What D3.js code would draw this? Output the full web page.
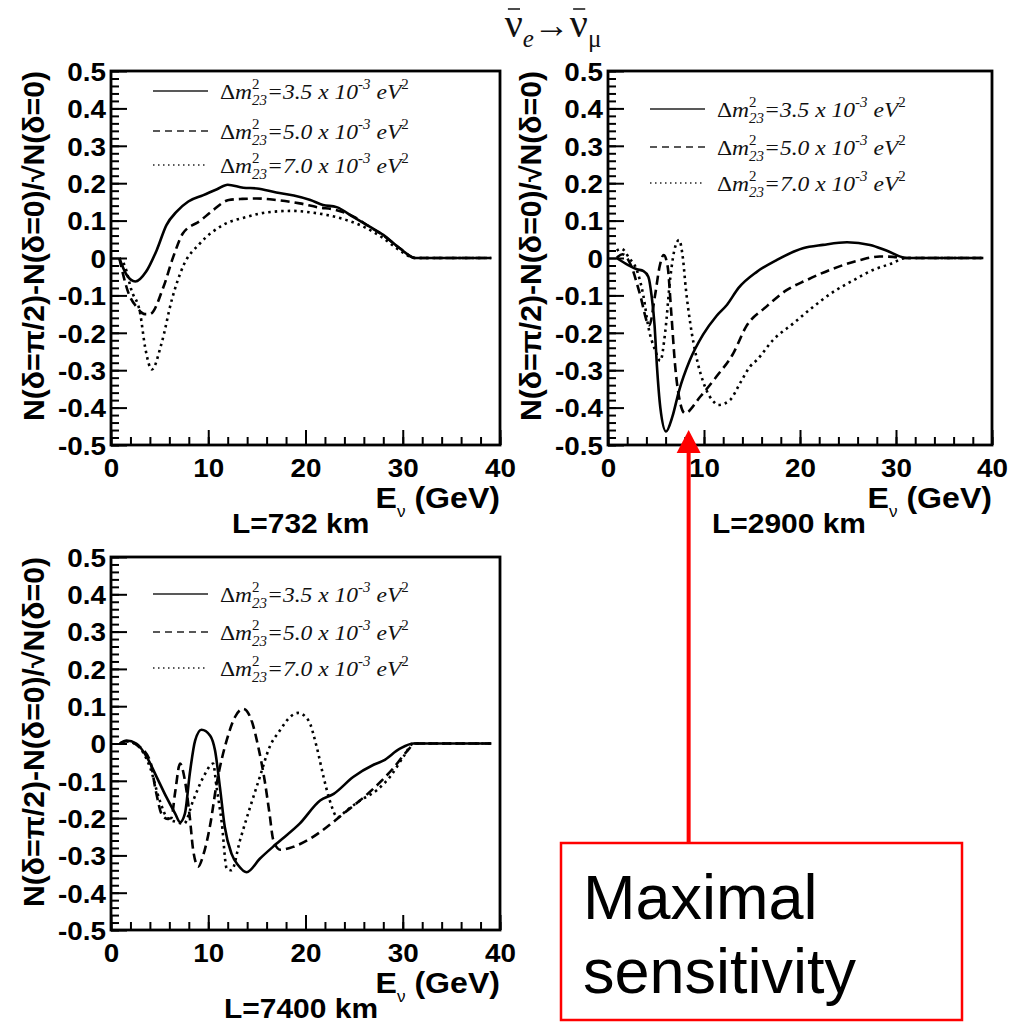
<!DOCTYPE html>
<html>
<head>
<meta charset="utf-8">
<script src="https://cdn.jsdelivr.net/npm/d3@7"></script>
<style>
  body { margin: 0; background: #fff; }
  svg text { font-family: "Liberation Sans", Arial, Helvetica, sans-serif; }
  .ws { transform-box: fill-box; transform-origin: left center; transform: scaleX(1.07); }
  .we { transform-box: fill-box; transform-origin: right center; transform: scaleX(1.07); }
  .wm { transform-box: fill-box; transform-origin: center; transform: scaleX(1.07); }
  .leg { font-family: "Liberation Serif", "Times New Roman", serif; }
</style>
</head>
<body>
<svg id="chart" width="1029" height="1023"></svg>
<script>

/****************************************************************************
 *  data: [E (GeV), (N(pi/2)-N(0))/sqrt(N(0))]
 ****************************************************************************/
var massLabels = ['3.5', '5.0', '7.0'];
var baselines = ['L=732 km', 'L=2900 km', 'L=7400 km'];
var xTicks = [0, 10, 20, 30, 40];
var yTicks = [-0.5, -0.4, -0.3, -0.2, -0.1, 0, 0.1, 0.2, 0.3, 0.4, 0.5];

// L = 732 km
var l732_m35 = [[0.85,0],[1.6,-0.045],[2.5,-0.063],[3.6,-0.037],[4.7,0.021],[5.7,0.088],
  [6.75,0.124],[7.95,0.151],[9.5,0.168],[10.9,0.184],[12.0,0.196],[13.6,0.188],[15.0,0.186],
  [17.0,0.175],[18.8,0.167],[20.5,0.155],[21.8,0.142],[23.2,0.136],[24.9,0.11],[26.6,0.084],
  [28.0,0.062],[29.7,0.026],[31.3,0],[39.1,0]];
var l732_m50 = [[0.85,0],[1.8,-0.094],[2.6,-0.13],[3.5,-0.15],[4.0,-0.15],[5.4,-0.077],
  [6.4,0.003],[7.4,0.066],[9.2,0.10],[10.5,0.128],[12.1,0.155],[13.5,0.158],[15.0,0.159],
  [17.0,0.155],[19.4,0.146],[21.4,0.135],[22.9,0.13],[25.0,0.11],[26.5,0.085],[28.0,0.06],
  [29.7,0.026],[31.3,0],[39.1,0]];
var l732_m70 = [[0.85,0],[1.45,-0.023],[2.1,-0.086],[3.0,-0.148],[3.5,-0.237],[4.2,-0.298],
  [5.2,-0.228],[6.25,-0.112],[7.4,-0.023],[9.15,0.039],[11.5,0.088],[14.0,0.11],[16.0,0.122],
  [18.7,0.126],[20.5,0.122],[22.2,0.115],[24.4,0.10],[25.6,0.088],[28.0,0.053],[29.7,0.02],
  [31.3,0],[39.1,0]];

// L = 2900 km
var l2900_m35 = [[0.9,0],[2.1,-0.019],[3.0,-0.03],[3.7,-0.035],[4.2,-0.05],[4.55,-0.103],
  [4.85,-0.18],[5.1,-0.29],[5.45,-0.40],[6.05,-0.464],[6.7,-0.425],[7.4,-0.355],[8.5,-0.275],
  [9.9,-0.205],[11.3,-0.155],[12.4,-0.125],[13.6,-0.08],[15.5,-0.037],[17.6,-0.005],
  [20.3,0.026],[22.4,0.035],[24.9,0.042],[27.3,0.035],[29.0,0.02],[31.1,0],[39.1,0]];
var l2900_m50 = [[0.9,0],[1.5,0.01],[2.4,-0.02],[3.3,-0.094],[4.3,-0.18],[4.9,-0.1],[5.4,-0.02],
  [5.8,0.008],[6.2,-0.02],[6.6,-0.15],[7.0,-0.29],[7.5,-0.385],[8.0,-0.415],[9.6,-0.371],
  [11.3,-0.317],[13.05,-0.255],[14.4,-0.183],[16.5,-0.13],[18.6,-0.086],[20.7,-0.059],
  [23.5,-0.028],[26.2,-0.006],[28.3,0.004],[29.7,0.003],[31.1,0],[39.1,0]];
var l2900_m70 = [[0.9,0.02],[1.4,0.025],[2.2,0.0],[3.0,-0.032],[3.7,-0.103],[4.2,-0.184],
  [4.9,-0.246],[5.45,-0.275],[5.95,-0.2],[6.5,-0.05],[7.0,0.03],[7.4,0.048],[7.8,0.0],
  [8.1,-0.08],[8.6,-0.18],[9.2,-0.264],[10.1,-0.344],[11.0,-0.384],[11.5,-0.393],[12.7,-0.38],
  [13.75,-0.335],[14.8,-0.29],[15.5,-0.273],[17.2,-0.219],[19.3,-0.175],[21.4,-0.13],
  [23.5,-0.09],[25.6,-0.059],[27.6,-0.032],[29.4,-0.016],[31.1,0],[39.1,0]];

// L = 7400 km
var l7400_m35 = [[0.93,0],[1.6,0.008],[2.6,0.0],[3.7,-0.037],[4.7,-0.09],[5.7,-0.144],
  [6.6,-0.188],[7.1,-0.211],[7.6,-0.188],[8.1,-0.081],[8.65,0.008],[9.3,0.037],[10.2,0.021],
  [10.7,-0.019],[11.2,-0.117],[11.7,-0.224],[12.4,-0.296],[13.1,-0.327],[13.95,-0.345],
  [15.3,-0.309],[17.0,-0.269],[19.4,-0.215],[21.5,-0.153],[22.9,-0.135],[24.9,-0.09],
  [27.0,-0.057],[28.0,-0.046],[29.7,-0.014],[31.1,0],[39.1,0]];
var l7400_m50 = [[0.93,0],[1.6,0.006],[2.6,-0.003],[4.0,-0.045],[4.6,-0.126],[5.27,-0.193],
  [5.8,-0.202],[6.2,-0.2],[6.6,-0.13],[7.1,-0.054],[7.6,-0.099],[8.1,-0.197],[8.45,-0.286],
  [8.97,-0.33],[9.5,-0.298],[10.2,-0.218],[10.85,-0.11],[11.9,0.009],[12.75,0.071],
  [13.6,0.093],[14.45,0.062],[15.15,-0.01],[15.8,-0.099],[16.3,-0.188],[16.7,-0.26],
  [17.4,-0.285],[18.75,-0.277],[20.5,-0.255],[22.2,-0.224],[23.9,-0.188],[26.0,-0.144],
  [27.7,-0.103],[29.0,-0.067],[30.4,-0.022],[31.3,0],[39.1,0]];
var l7400_m70 = [[0.93,0],[1.6,0.006],[2.6,-0.003],[4.0,-0.063],[5.0,-0.152],[5.8,-0.2],
  [6.8,-0.211],[7.5,-0.215],[8.45,-0.153],[9.5,-0.09],[10.5,-0.054],[10.85,-0.116],
  [11.4,-0.215],[11.9,-0.335],[12.4,-0.34],[13.26,-0.26],[14.3,-0.171],[15.3,-0.09],
  [16.3,-0.01],[17.4,0.036],[18.4,0.071],[19.25,0.082],[20.3,0.062],[21.15,-0.009],
  [21.85,-0.089],[22.5,-0.153],[23.3,-0.198],[24.2,-0.18],[25.6,-0.153],[27.3,-0.126],
  [28.7,-0.089],[30.06,-0.036],[31.1,0],[39.1,0]];

// where the arrow points (panel 2 coordinates)
var arrowE = 8.4;
var arrowV = -0.46;

/****************************************************************************
 *  layout
 ****************************************************************************/
var panels = [
  { left: 111, top: 71,  right: 500, bottom: 445, labelX: 232, legendY: [91, 131, 165],
    series: [l732_m35, l732_m50, l732_m70], label: baselines[0] },
  { left: 608, top: 71,  right: 992, bottom: 445, labelX: 712, legendY: [109, 147, 183],
    series: [l2900_m35, l2900_m50, l2900_m70], label: baselines[1] },
  { left: 111, top: 557, right: 500, bottom: 930, labelX: 224, legendY: [594, 632, 668],
    series: [l7400_m35, l7400_m50, l7400_m70], label: baselines[2] }
];

// solid, dashed, dotted
var curveDash = [null, '9,5', '2.5,4'];
var legendDash = [null, '7,5', '1.5,3.5'];

var svg = d3.select('#chart');
svg.append('rect').attr('width', 1029).attr('height', 1023).attr('fill', '#fff');

function fmtY(v) { return v === 0 ? '0' : v.toFixed(1); }

function styleAxis(sel, cls) {
  sel.attr('font-size', null).attr('font-family', null);
  sel.select('.domain').remove();
  sel.selectAll('line').attr('stroke-width', 2);
  sel.selectAll('text')
    .attr('class', cls)
    .attr('font-size', 26)
    .attr('font-weight', 'bold')
    .attr('fill', '#000');
}

function legendLabel(g, x, y, mass) {
  var t = g.append('text')
    .attr('class', 'leg ws')
    .attr('x', x).attr('y', y)
    .attr('font-size', 22)
    .attr('fill', '#111');
  t.append('tspan').text('\u0394');
  t.append('tspan').attr('font-style', 'italic').text('m');
  t.append('tspan').attr('font-size', 14).attr('dy', -10).text('2');
  t.append('tspan').attr('font-size', 14).attr('font-style', 'italic')
    .attr('dx', -7).attr('dy', 16).text('23');
  t.append('tspan').attr('font-style', 'italic').attr('dy', -6).text('=' + mass + ' x 10');
  t.append('tspan').attr('font-size', 14).attr('font-style', 'italic').attr('dy', -10).text('-3');
  t.append('tspan').attr('font-style', 'italic').attr('dy', 10).text(' eV');
  t.append('tspan').attr('font-size', 14).attr('dy', -10).text('2');
}

var scales2 = null;

panels.forEach(function(p, pi) {
  var x = d3.scaleLinear().domain([0, 40]).range([p.left, p.right]);
  var y = d3.scaleLinear().domain([-0.5, 0.5]).range([p.bottom, p.top]);
  if (pi === 1) { scales2 = { x: x, y: y }; }
  var g = svg.append('g');

  // minor ticks
  g.append('g').attr('transform', 'translate(0,' + p.bottom + ')')
    .call(d3.axisBottom(x).tickValues(d3.range(0, 41, 2)).tickSizeInner(-8)
      .tickSizeOuter(0).tickFormat(''))
    .call(styleAxis, 'wm');
  g.append('g').attr('transform', 'translate(' + p.left + ',0)')
    .call(d3.axisLeft(y).tickValues(d3.range(-25, 26).map(function(i) { return i * 0.02; }))
      .tickSizeInner(-8).tickSizeOuter(0).tickFormat(''))
    .call(styleAxis, 'we');

  // major ticks and labels
  g.append('g').attr('transform', 'translate(0,' + p.bottom + ')')
    .call(d3.axisBottom(x).tickValues(xTicks).tickSizeInner(-15).tickSizeOuter(0)
      .tickPadding(14).tickFormat(d3.format('d')))
    .call(styleAxis, 'wm');
  g.append('g').attr('transform', 'translate(' + p.left + ',0)')
    .call(d3.axisLeft(y).tickValues(yTicks).tickSizeInner(-16).tickSizeOuter(0)
      .tickPadding(5).tickFormat(fmtY))
    .call(styleAxis, 'we')
    .call(function(s) { s.selectAll('text').attr('dy', '0.36em'); });

  // frame
  g.append('rect')
    .attr('x', p.left).attr('y', p.top)
    .attr('width', p.right - p.left).attr('height', p.bottom - p.top)
    .attr('fill', 'none').attr('stroke', '#000').attr('stroke-width', 2.8);

  // curves (dotted first, solid on top)
  var line = d3.line()
    .x(function(d) { return x(d[0]); })
    .y(function(d) { return y(d[1]); })
    .curve(d3.curveMonotoneX);
  [2, 1, 0].forEach(function(k) {
    g.append('path')
      .attr('d', line(p.series[k]))
      .attr('fill', 'none')
      .attr('stroke', '#000')
      .attr('stroke-width', 2.6)
      .attr('stroke-dasharray', curveDash[k]);
  });

  // legend
  massLabels.forEach(function(m, k) {
    var ly = p.legendY[k];
    g.append('line')
      .attr('x1', p.left + 42).attr('x2', p.left + 97)
      .attr('y1', ly).attr('y2', ly)
      .attr('stroke', '#222').attr('stroke-width', 1.5)
      .attr('stroke-dasharray', legendDash[k]);
    legendLabel(g, p.left + 109, ly + 8, m);
  });

  // y title
  g.append('text')
    .attr('transform', 'translate(' + (p.left - 67) + ',' + p.top + ') rotate(-90)')
    .attr('text-anchor', 'end')
    .attr('font-size', 29)
    .attr('font-weight', 'bold')
    .attr('textLength', 350)
    .attr('lengthAdjust', 'spacingAndGlyphs')
    .text('N(\u03b4=\u03c0/2)-N(\u03b4=0)/\u221aN(\u03b4=0)');

  // x title
  var xt = g.append('text')
    .attr('class', 'we')
    .attr('x', p.right).attr('y', p.bottom + 63)
    .attr('text-anchor', 'end')
    .attr('font-size', 30)
    .attr('font-weight', 'bold');
  xt.append('tspan').text('E');
  xt.append('tspan').attr('font-size', 16).attr('font-weight', 'normal')
    .attr('dy', 9).text('\u03bd');
  xt.append('tspan').attr('dy', -9).text(' (GeV)');

  // baseline label
  g.append('text')
    .attr('class', 'ws')
    .attr('x', p.labelX).attr('y', p.bottom + 88)
    .attr('font-size', 28)
    .attr('font-weight', 'bold')
    .text(p.label);
});

/****************************************************************************
 *  title: anti-nu_e -> anti-nu_mu
 ****************************************************************************/
var title = svg.append('text')
  .attr('class', 'leg')
  .attr('x', 553).attr('y', 37)
  .attr('text-anchor', 'middle')
  .attr('font-size', 40)
  .attr('fill', '#111');
title.append('tspan').text('\u03bd');
title.append('tspan').attr('font-size', 25).attr('font-style', 'italic').attr('dy', 10).text('e');
title.append('tspan').attr('font-size', 36).attr('dy', -10).text('\u2192');
title.append('tspan').text('\u03bd');
title.append('tspan').attr('font-size', 25).attr('dy', 10).text('\u03bc');
[0, 3].forEach(function(ci) {
  var ext = title.node().getExtentOfChar(ci);
  svg.append('line')
    .attr('x1', ext.x + ext.width * 0.18).attr('x2', ext.x + ext.width * 0.85)
    .attr('y1', 37 - 28).attr('y2', 37 - 28)
    .attr('stroke', '#111').attr('stroke-width', 1.5);
});

/****************************************************************************
 *  red annotation
 ****************************************************************************/
var ax = scales2.x(arrowE);
var tipY = scales2.y(arrowV);
var boxTop = 843, boxBottom = 1020;
svg.append('line')
  .attr('x1', ax).attr('x2', ax)
  .attr('y1', tipY + 20).attr('y2', boxTop)
  .attr('stroke', '#ff0000').attr('stroke-width', 4);
svg.append('path')
  .attr('d', 'M' + ax + ',' + tipY + 'L' + (ax - 12) + ',' + (tipY + 23) +
             'L' + (ax + 12) + ',' + (tipY + 23) + 'Z')
  .attr('fill', '#ff0000');
svg.append('rect')
  .attr('x', 561).attr('y', boxTop)
  .attr('width', 401).attr('height', boxBottom - boxTop)
  .attr('fill', '#fff').attr('stroke', '#ff0000').attr('stroke-width', 2.5);
svg.append('text').attr('x', 583).attr('y', 919)
  .attr('font-size', 63).attr('fill', '#000').text('Maximal');
svg.append('text').attr('x', 583).attr('y', 993)
  .attr('font-size', 63).attr('fill', '#000').text('sensitivity');

</script>
</body>
</html>
